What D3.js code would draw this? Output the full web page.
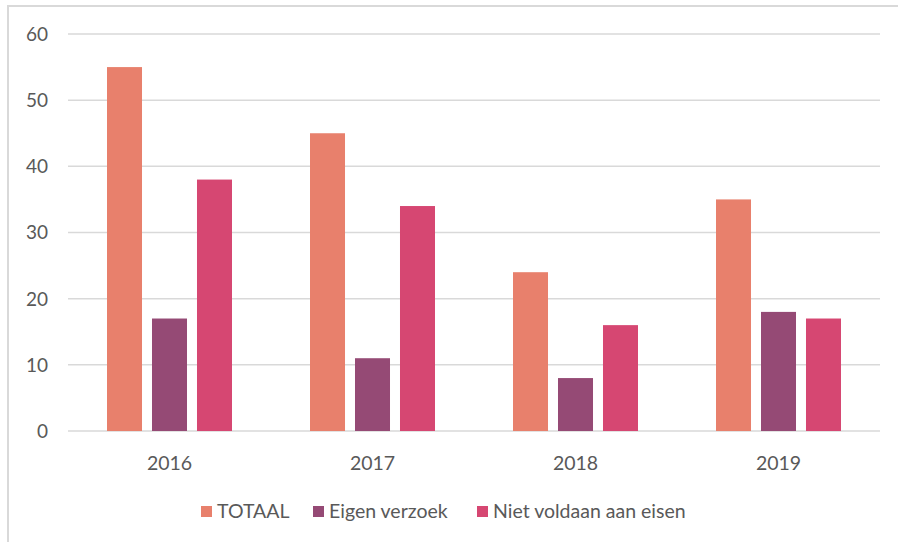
<!DOCTYPE html>
<html lang="en">
<head>
  <meta charset="utf-8">
  <script src="https://d3js.org/d3.v7.min.js"></script>
  <style>
    body { margin: 0; background: #fff; }
    svg { display: block; font-family: Lato, "Open Sans", sans-serif; }
  </style>
</head>
<body>
  <svg width="898" height="542"></svg>

  <script>
    const years = ["2016", "2017", "2018", "2019"];
    const series = ["TOTAAL", "Eigen verzoek", "Niet voldaan aan eisen"];
    const totaal = [55, 45, 24, 35];
    const eigenVerzoek = [17, 11, 8, 18];
    const nietVoldaan = [38, 34, 16, 17];
    const yTicks = [0, 10, 20, 30, 40, 50, 60];

    const colors = ["#e8806c", "#954a75", "#d64772"];
    const values = [totaal, eigenVerzoek, nietVoldaan];

    const svg = d3.select("svg");

    // chart frame (runs off the right and bottom edge)
    svg.append("rect")
      .attr("x", 8).attr("y", 6)
      .attr("width", 920).attr("height", 560)
      .attr("fill", "#fff")
      .attr("stroke", "#d9d9d9")
      .attr("stroke-width", 2);

    const plotLeft = 68, plotRight = 880, plotTop = 34, plotBottom = 431;

    const y = d3.scaleLinear().domain([0, 60]).range([plotBottom, plotTop]);

    const x0 = d3.scaleBand()
      .domain(years)
      .range([plotLeft, plotRight])
      .paddingInner(78 / 203)
      .paddingOuter(39 / 203);

    const x1 = d3.scaleBand()
      .domain(series)
      .range([0, x0.bandwidth()])
      .paddingInner(0.222);

    // gridlines
    svg.append("g").selectAll("line")
      .data(yTicks)
      .enter().append("line")
      .attr("x1", plotLeft).attr("x2", plotRight)
      .attr("y1", d => y(d)).attr("y2", d => y(d))
      .attr("stroke", "#d9d9d9")
      .attr("stroke-width", 1.5);

    // y labels
    svg.append("g").selectAll("text")
      .data(yTicks)
      .enter().append("text")
      .attr("x", 48)
      .attr("y", d => y(d))
      .attr("dy", "0.36em")
      .attr("text-anchor", "end")
      .attr("fill", "#595959")
      .style("font-size", "19px")
      .text(d => d);

    // bars
    const groups = svg.append("g").selectAll("g")
      .data(years)
      .enter().append("g")
      .attr("transform", d => `translate(${x0(d)},0)`);

    groups.selectAll("rect")
      .data((d, i) => series.map((s, j) => ({ s, v: values[j][i], c: colors[j] })))
      .enter().append("rect")
      .attr("x", d => x1(d.s))
      .attr("width", x1.bandwidth())
      .attr("y", d => y(d.v))
      .attr("height", d => plotBottom - y(d.v))
      .attr("fill", d => d.c);

    // x labels
    svg.append("g").selectAll("text")
      .data(years)
      .enter().append("text")
      .attr("x", d => x0(d) + x0.bandwidth() / 2)
      .attr("y", 463)
      .attr("dy", "0.36em")
      .attr("text-anchor", "middle")
      .attr("fill", "#595959")
      .style("font-size", "19.5px")
      .text(d => d);

    // legend
    const legendX = [201, 313, 477];
    const legend = svg.append("g").selectAll("g")
      .data(series)
      .enter().append("g")
      .attr("transform", (d, i) => `translate(${legendX[i]},511)`);

    legend.append("rect")
      .attr("x", 0).attr("y", -5)
      .attr("width", 11).attr("height", 11)
      .attr("fill", (d, i) => colors[i]);

    legend.append("text")
      .attr("x", 16)
      .attr("y", 0)
      .attr("dy", "0.36em")
      .attr("fill", "#595959")
      .style("font-size", "19.5px")
      .text(d => d);
  </script>
</body>
</html>
